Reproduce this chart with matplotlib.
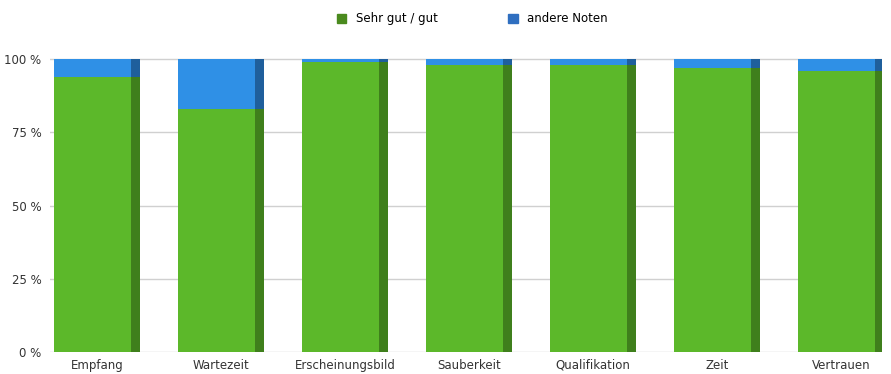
import numpy as np
import matplotlib
matplotlib.use("Agg")
import matplotlib.pyplot as plt
from matplotlib.patches import Patch

##~~~~~~~~ Data ~~~~~~~~~~~~
categories = ["Empfang", "Wartezeit", "Erscheinungsbild", "Sauberkeit",
              "Qualifikation", "Zeit", "Vertrauen"]
sehr_gut = np.array([94, 83, 99, 98, 98, 97, 96])
andere = 100 - sehr_gut
yticks = [0, 25, 50, 75, 100]
ytick_labels = ["0 %", "25 %", "50 %", "75 %", "100 %"]
##~~~~~~~~~~~~~~~~~~~~~~~~~~~

green = '#5cb82a'
green_dark = '#3f7f1c'
blue = '#2f90e6'
blue_dark = '#1f5f9c'

fig = plt.figure(figsize=(8.91, 3.74), dpi=100)
ax = fig.add_axes([0.056, 0.059, 0.934, 0.783 * 1.04])

x = np.arange(len(categories))
w = 0.69
side = 0.07

# front faces
ax.bar(x, sehr_gut, w, color=green, zorder=3)
ax.bar(x, andere, w, bottom=sehr_gut, color=blue, zorder=3)
# darker side strip for a bit of depth
ax.bar(x + w / 2 - side / 2, sehr_gut, side, color=green_dark, zorder=4)
ax.bar(x + w / 2 - side / 2, andere, side, bottom=sehr_gut, color=blue_dark, zorder=4)

ax.set_xlim(-0.38, 6.33)
ax.set_ylim(0, 104)
ax.set_yticks(yticks)
ax.set_yticklabels(ytick_labels, fontsize=8.5, color='#333333')
ax.set_xticks(x)
ax.set_xticklabels(categories, fontsize=8.5, color='#333333')
ax.tick_params(length=0, pad=5)
ax.tick_params(axis='y', pad=6)
ax.grid(axis='y', color='#d0d0d0', lw=1, zorder=0)
for s in ax.spines.values():
    s.set_visible(False)

handles = [Patch(color='#4a8a1e', label="Sehr gut / gut"),
           Patch(color='#2f6fc0', label="andere Noten")]
fig.legend(handles=handles, loc='center', bbox_to_anchor=(0.53, 0.95), ncol=2,
           frameon=False, fontsize=8.5, handlelength=0.8, handleheight=0.8,
           columnspacing=6, handletextpad=0.8)

plt.savefig('out.png', dpi=100)
